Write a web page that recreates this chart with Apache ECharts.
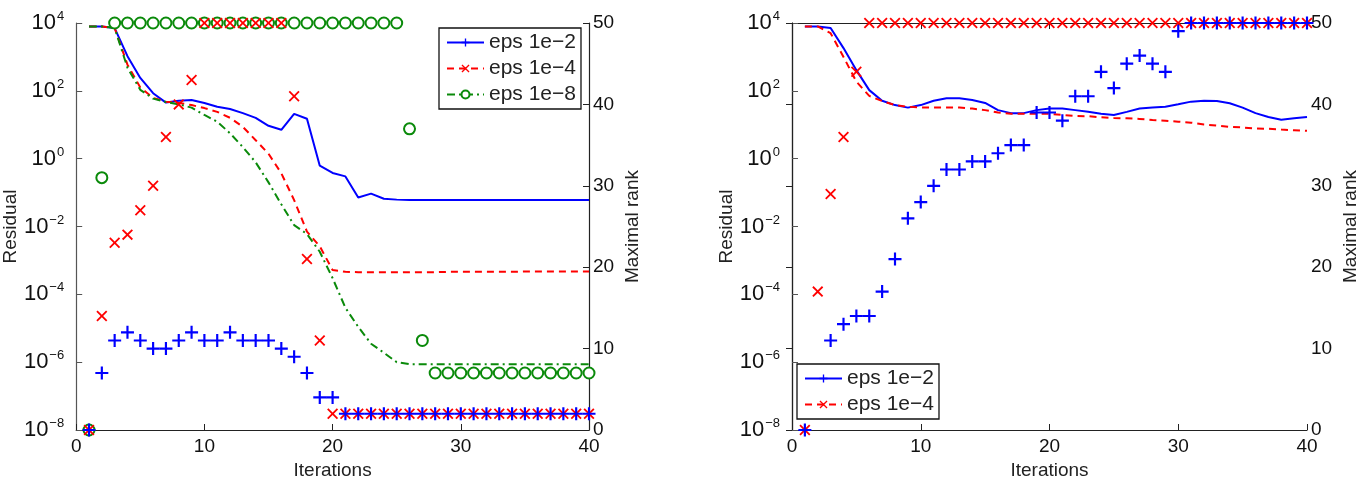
<!DOCTYPE html>
<html>
<head>
<meta charset="utf-8">
<script src="https://cdn.jsdelivr.net/npm/echarts@6/dist/echarts.min.js"></script>
<style>
  html, body { margin: 0; padding: 0; background: #fff; }
  #main { width: 1368px; height: 486px; }
</style>
</head>
<body>
<div id="main"></div>
<script>
const chart = echarts.init(document.querySelector('#main'));

// iterations (shared by both panels)
const iters = [1, 2, 3, 4, 5, 6, 7, 8, 9, 10, 11, 12, 13, 14, 15, 16, 17, 18, 19, 20,
    21, 22, 23, 24, 25, 26, 27, 28, 29, 30, 31, 32, 33, 34, 35, 36, 37, 38, 39, 40];

// left panel, residuals
const resA2 = [7.9e3, 7.9e3, 7.1e3, 1.05e3, 240, 85, 45, 51, 54, 44, 34, 29, 22, 16, 9.3, 7.1, 21, 15, 0.62, 0.38,
    0.30, 0.072, 0.093, 0.066, 0.062, 0.060, 0.060, 0.060, 0.060, 0.060, 0.060, 0.060, 0.060, 0.060, 0.060, 0.060, 0.060, 0.060, 0.060, 0.060];
const resA4 = [7.9e3, 7.9e3, 7.1e3, 590, 126, 62, 48, 44, 38, 31, 24, 16, 8.7, 3.5, 1.4, 0.37, 0.060, 7.1e-3, 2.6e-3, 5.2e-4,
    4.6e-4, 4.5e-4, 4.5e-4, 4.5e-4, 4.5e-4, 4.5e-4, 4.5e-4, 4.5e-4, 4.6e-4, 4.6e-4, 4.6e-4, 4.6e-4, 4.6e-4, 4.6e-4, 4.7e-4, 4.7e-4, 4.7e-4, 4.7e-4, 4.7e-4, 4.7e-4];
const resA8 = [7.9e3, 7.9e3, 7.1e3, 480, 107, 59, 47, 40, 32, 19.5, 12.3, 5.6, 2.2, 0.78, 0.20, 0.045, 0.011, 6.0e-3, 1.8e-3, 3.0e-4,
    4.0e-5, 1.1e-5, 3.5e-6, 1.9e-6, 1.0e-6, 8.7e-7, 8.7e-7, 8.7e-7, 8.7e-7, 8.7e-7, 8.7e-7, 8.7e-7, 8.7e-7, 8.7e-7, 8.7e-7, 8.7e-7, 8.7e-7, 8.7e-7, 8.7e-7, 8.7e-7];

// left panel, maximal rank
const rankA2 = [0, 7, 11, 12, 11, 10, 10, 11, 12, 11, 11, 12, 11, 11, 11, 10, 9, 7, 4, 4,
    2, 2, 2, 2, 2, 2, 2, 2, 2, 2, 2, 2, 2, 2, 2, 2, 2, 2, 2, 2];
const rankA4 = [0, 14, 23, 24, 27, 30, 36, 40, 43, 50, 50, 50, 50, 50, 50, 50, 41, 21, 11, 2,
    2, 2, 2, 2, 2, 2, 2, 2, 2, 2, 2, 2, 2, 2, 2, 2, 2, 2, 2, 2];
const rankA8 = [0, 31, 50, 50, 50, 50, 50, 50, 50, 50, 50, 50, 50, 50, 50, 50, 50, 50, 50, 50,
    50, 50, 50, 50, 50, 37, 11, 7, 7, 7, 7, 7, 7, 7, 7, 7, 7, 7, 7, 7];

// right panel, residuals
const resB2 = [7.9e3, 7.9e3, 7.1e3, 1820, 407, 105, 51, 38, 32, 38, 51, 60, 60, 54, 44, 27, 22, 22, 27, 30,
    30, 27, 24, 21, 19.5, 24, 30, 32, 34, 40, 48, 51, 50, 43, 32, 22, 17, 14, 15.5, 17];
const resB4 = [7.9e3, 7.9e3, 5.0e3, 1.0e3, 186, 71, 50, 38, 34, 32, 32, 32, 32, 30, 27, 23, 21, 21, 21, 21,
    19.5, 18, 17.8, 16.6, 15.8, 15.5, 14.8, 13.8, 13.2, 12.3, 11.5, 10.2, 9.5, 8.7, 8.3, 7.8, 7.6, 7.2, 6.9, 6.6];

// right panel, maximal rank
const rankB2 = [0, 7, 11, 13, 14, 14, 17, 21, 26, 28, 30, 32, 32, 33, 33, 34, 35, 35, 39, 39,
    38, 41, 41, 44, 42, 45, 46, 45, 44, 49, 50, 50, 50, 50, 50, 50, 50, 50, 50, 50];
const rankB4 = [0, 17, 29, 36, 44, 50, 50, 50, 50, 50, 50, 50, 50, 50, 50, 50, 50, 50, 50, 50,
    50, 50, 50, 50, 50, 50, 50, 50, 50, 50, 50, 50, 50, 50, 50, 50, 50, 50, 50, 50];

const names = ['eps 1e\u22122', 'eps 1e\u22124', 'eps 1e\u22128'];
const BLUE = '#0000ff', RED = '#ff0000', GREEN = '#0a8a0a';
const PLUS = 'path://M5,0H7V5H12V7H7V12H5V7H0V5H5Z';
const CROSS = 'path://M0,1.4L1.4,0L6,4.6L10.6,0L12,1.4L7.4,6L12,10.6L10.6,12L6,7.4L1.4,12L0,10.6L4.6,6Z';
const FONT = 'Liberation Sans';

function pairs(ys) {
    return iters.map((x, i) => [x, ys[i]]);
}

function xAxisOf(grid) {
    return {
        type: 'value', gridIndex: grid, min: 0, max: 40, interval: 10,
        name: 'Iterations', nameLocation: 'middle', nameGap: 30,
        nameTextStyle: { fontFamily: FONT, fontSize: 19, color: '#222' },
        axisLine: { lineStyle: { color: '#222', width: 1.2 } },
        axisTick: { inside: true, length: 6, lineStyle: { color: '#222' } },
        axisLabel: { fontFamily: FONT, fontSize: 19, color: '#111', margin: 7 },
        splitLine: { show: false }
    };
}

function logAxisOf(grid) {
    return {
        type: 'log', logBase: 10, gridIndex: grid, min: 1e-8, max: 1e4, interval: 2,
        position: 'left',
        name: 'Residual', nameLocation: 'middle', nameGap: 56,
        nameTextStyle: { fontFamily: FONT, fontSize: 19, color: '#222' },
        axisLine: { show: true, lineStyle: { color: '#555', width: 1.2 } },
        axisTick: { inside: true, length: 6, lineStyle: { color: '#555' } },
        axisLabel: {
            margin: 12,
            formatter: (v) => {
                const e = Math.round(Math.log10(v));
                return '{b|10}{s|' + (e < 0 ? '\u2212' + (-e) : e) + '}';
            },
            rich: {
                b: { fontFamily: FONT, fontSize: 22, color: '#111' },
                s: { fontFamily: FONT, fontSize: 13, color: '#111', padding: [0, 0, 13, 1] }
            }
        },
        splitLine: { show: false }
    };
}

function rankAxisOf(grid) {
    return {
        type: 'value', gridIndex: grid, min: 0, max: 50, interval: 10,
        position: 'right',
        name: 'Maximal rank', nameLocation: 'middle', nameGap: 34, nameRotate: 90,
        nameTextStyle: { fontFamily: FONT, fontSize: 19, color: '#222' },
        axisLine: { show: true, lineStyle: { color: '#222', width: 1.2 } },
        axisTick: { inside: true, length: 6, lineStyle: { color: '#222' } },
        axisLabel: { fontFamily: FONT, fontSize: 19, color: '#111', margin: 4 },
        splitLine: { show: false }
    };
}

function resLine(name, grid, ys, color, type, symbol) {
    return {
        name: name, type: 'line', xAxisIndex: grid, yAxisIndex: grid * 2,
        data: pairs(ys), symbol: symbol, showSymbol: false, clip: false,
        lineStyle: { color: color, width: 2, type: type },
        itemStyle: { color: color },
        emphasis: { disabled: true }, z: 3
    };
}

function rankDots(name, grid, ys, color, symbol, size) {
    const empty = symbol === 'emptyCircle';
    return {
        name: name, type: 'scatter', xAxisIndex: grid, yAxisIndex: grid * 2 + 1,
        data: pairs(ys), symbol: symbol, symbolSize: size, clip: false,
        itemStyle: empty ? { color: color, opacity: 1, borderWidth: 1.8 }
                         : { color: color, opacity: 1 },
        emphasis: { disabled: true }, z: 4
    };
}

const legendBase = {
    orient: 'vertical', backgroundColor: '#fff', borderColor: '#111', borderWidth: 1.3,
    padding: [4, 5, 4, 7], itemWidth: 37, itemHeight: 10, itemGap: 5,
    textStyle: { fontFamily: FONT, fontSize: 21, color: '#222' },
    selectedMode: false, z: 10
};

let option = {
    animation: false,
    backgroundColor: '#fff',
    grid: [
        { left: 74, right: 779, top: 23, bottom: 56 },
        { left: 792, right: 61, top: 23, bottom: 56 }
    ],
    xAxis: [
        xAxisOf(0),
        xAxisOf(1),
        {
            type: 'value', gridIndex: 1, position: 'top', min: 0, max: 40, interval: 10,
            axisLine: { lineStyle: { color: '#222', width: 1.2 } },
            axisTick: { inside: true, length: 6, lineStyle: { color: '#222' } },
            axisLabel: { show: false }, splitLine: { show: false }
        }
    ],
    yAxis: [logAxisOf(0), rankAxisOf(0), logAxisOf(1), rankAxisOf(1)],
    legend: [
        Object.assign({ left: 439, top: 28, data: names }, legendBase),
        Object.assign({ left: 797, top: 364, data: names.slice(0, 2) }, legendBase)
    ],
    series: [
        resLine(names[0], 0, resA2, BLUE, 'solid', PLUS),
        resLine(names[1], 0, resA4, RED, [7, 5], CROSS),
        resLine(names[2], 0, resA8, GREEN, [8, 4, 2, 4], 'emptyCircle'),
        rankDots(names[2], 0, rankA8, GREEN, 'emptyCircle', 11),
        rankDots(names[1], 0, rankA4, RED, CROSS, 11),
        rankDots(names[0], 0, rankA2, BLUE, PLUS, 13),

        resLine(names[0], 1, resB2, BLUE, 'solid', PLUS),
        resLine(names[1], 1, resB4, RED, [7, 5], CROSS),
        rankDots(names[1], 1, rankB4, RED, CROSS, 11),
        rankDots(names[0], 1, rankB2, BLUE, PLUS, 13)
    ]
};
chart.setOption(option);
</script>
</body>
</html>
